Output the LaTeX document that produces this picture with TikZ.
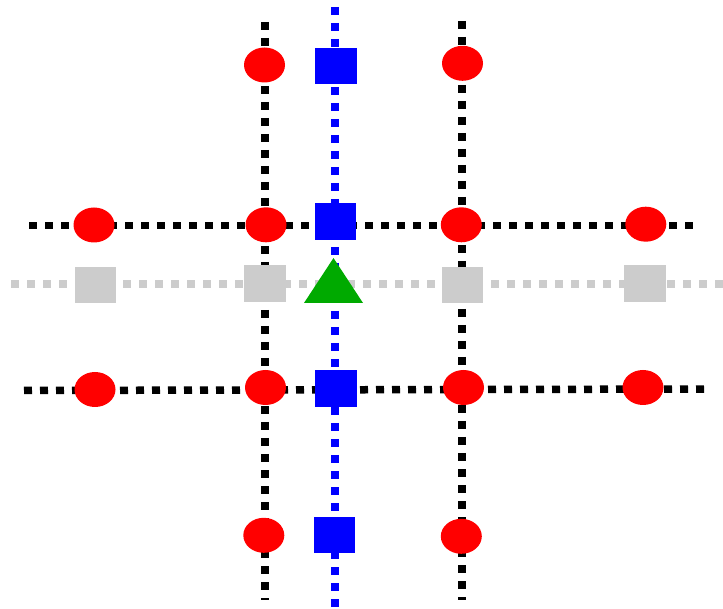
\documentclass[tikz,border=0pt]{standalone}
\usetikzlibrary{shapes.geometric}
\definecolor{markgray}{RGB}{204,204,204}
\definecolor{markgreen}{RGB}{0,170,0}
\begin{document}
\begin{tikzpicture}[x=1pt,y=-1pt,
  blackline/.style={line width=7.5pt, draw=black, dash pattern=on 8pt off 8pt},
  grayline/.style={line width=8pt, draw=markgray, dash pattern=on 8pt off 8pt},
  blueline/.style={line width=8pt, draw=blue, dash pattern=on 8pt off 8pt},
  reddot/.style={ellipse, fill=red, minimum width=41pt, minimum height=35pt, inner sep=0pt},
  bluesq/.style={rectangle, fill=blue, minimum width=41.5pt, minimum height=36.5pt, inner sep=0pt},
  graysq/.style={rectangle, fill=markgray, minimum width=41.5pt, minimum height=36.5pt, inner sep=0pt}]
\useasboundingbox (0,0) rectangle (723,609);

% end points of the dotted guide lines
\coordinate (gL) at (11,284.5);   \coordinate (gR) at (723,284.5);
\coordinate (hAL) at (29,225.5);  \coordinate (hAR) at (695,225.5);
\coordinate (hBL) at (24,390.5);  \coordinate (hBR) at (707,389);
\coordinate (vLT) at (265,22);    \coordinate (vLB) at (265,600);
\coordinate (vRT) at (462,21);    \coordinate (vRB) at (462,600);
\coordinate (bT) at (335,7);      \coordinate (bB) at (335,609);

% guide lines
\draw[grayline] (gL) -- (gR);
\draw[blackline] (hAL) -- (hAR);
\draw[blackline] (hBL) -- (hBR);
\draw[blackline] (vLT) -- (vLB);
\draw[blackline] (vRT) -- (vRB);
\draw[blueline] (bT) -- (bB);

% grey squares on the middle line
\node[graysq] (g1) at (95.5,285) {};
\node[graysq] (g2) at (265,283.7) {};
\node[graysq] (g3) at (462.7,285) {};
\node[graysq] (g4) at (645,283.3) {};

% red markers
\node[reddot] (r1) at (264.5,65) {};
\node[reddot] (r2) at (462.5,63.3) {};
\node[reddot] (r3) at (94,225) {};
\node[reddot] (r4) at (266,224.8) {};
\node[reddot] (r5) at (461.3,224.8) {};
\node[reddot] (r6) at (645.8,224.2) {};
\node[reddot] (r7) at (95,389.5) {};
\node[reddot] (r8) at (265.5,387.5) {};
\node[reddot] (r9) at (463.5,387.5) {};
\node[reddot] (r10) at (643,387.5) {};
\node[reddot] (r11) at (263.8,535.3) {};
\node[reddot] (r12) at (461.3,536.3) {};

% blue squares along the blue line
\node[bluesq] (b1) at (336,66) {};
\node[bluesq] (b2) at (335.5,221.5) {};
\node[bluesq] (b3) at (336,388.7) {};
\node[bluesq] (b4) at (334.5,535) {};

% green triangle
\coordinate (tri) at (333.5,280.5);
\fill[markgreen] ([yshift=22.5pt]tri) -- ([xshift=29.5pt,yshift=-22.5pt]tri) -- ([xshift=-29.5pt,yshift=-22.5pt]tri) -- cycle;
\end{tikzpicture}
\end{document}
